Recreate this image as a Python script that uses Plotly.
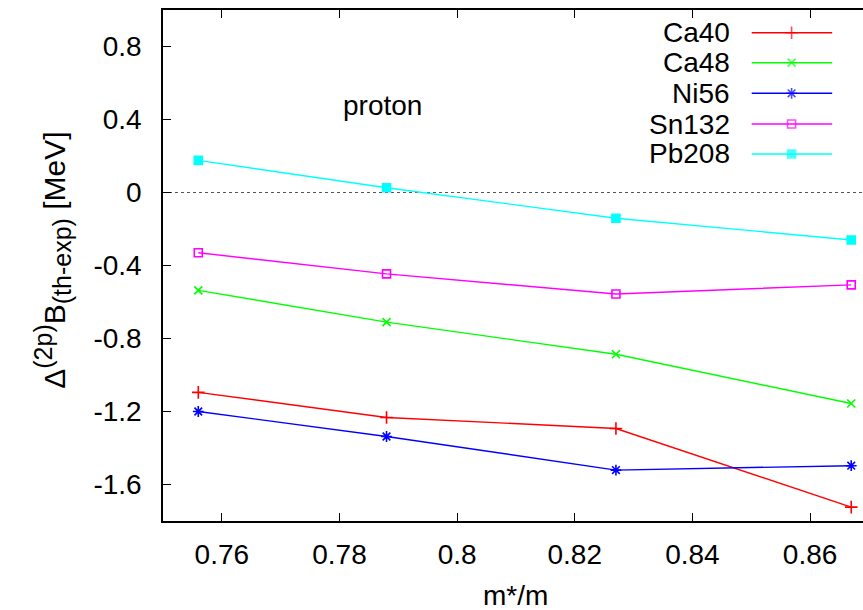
import plotly.graph_objects as go

# ---- data ----
mstar = [0.756, 0.788, 0.827, 0.867]
series_names = ["Ca40", "Ca48", "Ni56", "Sn132", "Pb208"]
ca40 = [-1.095, -1.233, -1.293, -1.724]
ca48 = [-0.536, -0.71, -0.886, -1.156]
ni56 = [-1.20, -1.337, -1.521, -1.497]
sn132 = [-0.33, -0.446, -0.556, -0.506]
pb208 = [0.176, 0.026, -0.141, -0.26]
series_values = [ca40, ca48, ni56, sn132, pb208]

x_tickvals = [0.76, 0.78, 0.80, 0.82, 0.84, 0.86]
x_ticktext = ["0.76", "0.78", "0.8", "0.82", "0.84", "0.86"]
y_tickvals = [0.8, 0.4, 0.0, -0.4, -0.8, -1.2, -1.6]
y_ticktext = ["0.8", "0.4", "0", "-0.4", "-0.8", "-1.2", "-1.6"]

# ---- styles ----
colors = ["#ff0000", "#00ff00", "#0000ff", "#ff00ff", "#00ffff"]
symbols = ["cross-thin-open", "x-thin-open", "asterisk-open", "square-open", "square"]
msizes = [9, 8, 9, 8, 8]
FONT = "Liberation Sans, Arial, sans-serif"
FS = 28

fig = go.Figure()
for name, vals, c, s, ms in zip(series_names, series_values, colors, symbols, msizes):
    fig.add_trace(go.Scatter(
        x=mstar, y=vals, mode="lines+markers", name=name,
        line=dict(color=c, width=1.4),
        marker=dict(symbol=s, size=ms, color=c, line=dict(color=c, width=1.6)),
        showlegend=False,
    ))

# manual gnuplot-style legend (text left, sample right) on an overlay paper-like axis
leg_rows = [0.9556, 0.8969, 0.8370, 0.7769, 0.7182]
lx0, lxm, lx1, ltext = 0.841, 0.898, 0.956, 0.8124
for name, c, s, ms, yy in zip(series_names, colors, symbols, msizes, leg_rows):
    fig.add_trace(go.Scatter(
        x=[lx0, lxm, lx1], y=[yy, yy, yy], xaxis="x2", yaxis="y2",
        mode="lines+markers", showlegend=False, hoverinfo="skip",
        line=dict(color=c, width=1.4),
        marker=dict(symbol=s, size=[0, ms, 0], color=c, line=dict(color=c, width=1.6)),
    ))
    fig.add_annotation(x=ltext, y=yy, xref="paper", yref="paper", text=name,
                       showarrow=False, xanchor="right", yanchor="middle",
                       font=dict(family=FONT, size=FS, color="black"))

# zero line (dotted)
fig.add_shape(type="line", xref="paper", yref="y", x0=0, x1=1, y0=0, y1=0,
              line=dict(color="#555555", width=1, dash="dot"), layer="below")

fig.add_annotation(x=0.313, y=0.814, xref="paper", yref="paper", text="proton",
                   showarrow=False, xanchor="center", yanchor="middle",
                   font=dict(family=FONT, size=FS, color="black"))

fig.add_annotation(x=0.504, y=-0.145, xref="paper", yref="paper", text="m*/m",
                   showarrow=False, xanchor="center", yanchor="middle",
                   font=dict(family=FONT, size=FS, color="black"))

fig.add_annotation(x=-0.158, y=0.51, xref="paper", yref="paper",
                   text=("Δ<sup><span style=\"font-size:25px\">(2p)</span></sup>"
                         "B<sub><span style=\"font-size:25px\">(th-exp)</span></sub> [MeV]"),
                   textangle=-90, showarrow=False, xanchor="center", yanchor="middle",
                   font=dict(family=FONT, size=30, color="black"))

fig.update_layout(
    width=863, height=610,
    margin=dict(l=163, r=0, t=10, b=89),
    plot_bgcolor="white", paper_bgcolor="white",
    font=dict(family=FONT, size=FS, color="black"),
    xaxis=dict(range=[0.75, 0.869], tickvals=x_tickvals, ticktext=x_ticktext,
               ticks="inside", ticklen=8, tickwidth=1, tickcolor="black",
               showline=True, linecolor="black", linewidth=1.5, mirror="ticks",
               showgrid=False, zeroline=False, ticklabelstandoff=8),
    yaxis=dict(range=[-1.8, 1.0], tickvals=y_tickvals, ticktext=y_ticktext,
               ticks="inside", ticklen=8, tickwidth=1, tickcolor="black",
               showline=True, linecolor="black", linewidth=1.5, mirror=False,
               showgrid=False, zeroline=False, ticklabelstandoff=14),
    xaxis2=dict(range=[0, 1], overlaying="x", visible=False),
    yaxis2=dict(range=[0, 1], overlaying="y", visible=False),
)

fig.write_html("out.html")
